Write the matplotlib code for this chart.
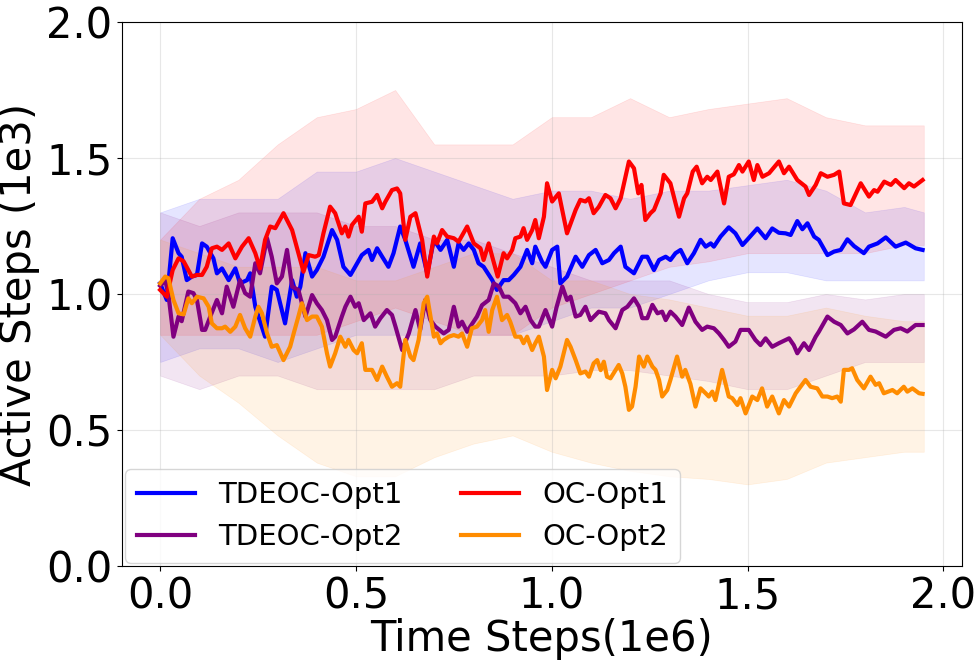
import numpy as np
import matplotlib
matplotlib.use("Agg")
import matplotlib.pyplot as plt

# mean curves (x in 1e6 steps, y in 1e3 steps)
tdeoc1_x = [0.000, 0.017, 0.032, 0.047, 0.055, 0.068, 0.081, 0.094, 0.107, 0.119, 0.136, 0.145, 0.158, 0.175,
            0.192, 0.204, 0.222, 0.230, 0.243, 0.268, 0.285, 0.298, 0.319, 0.337, 0.349, 0.358, 0.371, 0.388,
            0.400, 0.417, 0.439, 0.452, 0.468, 0.486, 0.498, 0.515, 0.532, 0.541, 0.554, 0.567, 0.583, 0.596,
            0.613, 0.626, 0.647, 0.664, 0.682, 0.699, 0.716, 0.733, 0.750, 0.762, 0.775, 0.788, 0.801, 0.813,
            0.826, 0.848, 0.860, 0.877, 0.890, 0.903, 0.920, 0.937, 0.950, 0.958, 0.975, 0.984, 1.001, 1.014,
            1.022, 1.039, 1.061, 1.078, 1.095, 1.112, 1.129, 1.146, 1.159, 1.176, 1.188, 1.210, 1.231, 1.244,
            1.261, 1.274, 1.291, 1.303, 1.316, 1.329, 1.346, 1.363, 1.380, 1.393, 1.406, 1.414, 1.431, 1.452,
            1.469, 1.487, 1.499, 1.525, 1.546, 1.563, 1.580, 1.597, 1.610, 1.627, 1.640, 1.653, 1.670, 1.682,
            1.704, 1.721, 1.738, 1.755, 1.772, 1.797, 1.810, 1.832, 1.853, 1.878, 1.904, 1.929, 1.947]
tdeoc1_y = [1.039, 0.978, 1.205, 1.150, 1.137, 1.051, 1.064, 1.070, 1.186, 1.174, 1.131, 1.076, 1.094, 1.051,
            1.094, 1.039, 1.051, 1.076, 0.953, 0.843, 1.027, 1.015, 0.892, 1.051, 0.990, 1.027, 1.150, 1.064,
            1.088, 1.137, 1.235, 1.199, 1.100, 1.070, 1.100, 1.143, 1.162, 1.125, 1.168, 1.137, 1.100, 1.150,
            1.248, 1.199, 1.100, 1.186, 1.076, 1.199, 1.162, 1.199, 1.100, 1.186, 1.162, 1.186, 1.162, 1.113,
            1.100, 1.051, 1.015, 1.051, 1.051, 1.070, 1.100, 1.162, 1.113, 1.174, 1.119, 1.100, 1.162, 1.174,
            1.039, 1.064, 1.137, 1.100, 1.143, 1.162, 1.113, 1.125, 1.150, 1.174, 1.100, 1.076, 1.137, 1.137,
            1.088, 1.125, 1.137, 1.125, 1.150, 1.162, 1.113, 1.150, 1.199, 1.174, 1.186, 1.174, 1.211, 1.245,
            1.223, 1.180, 1.199, 1.241, 1.205, 1.241, 1.225, 1.223, 1.217, 1.268, 1.238, 1.260, 1.211, 1.199,
            1.143, 1.156, 1.162, 1.201, 1.176, 1.150, 1.174, 1.186, 1.208, 1.174, 1.189, 1.168, 1.162]

tdeoc2_x = [0.000, 0.013, 0.021, 0.034, 0.047, 0.055, 0.072, 0.085, 0.094, 0.107, 0.115, 0.128, 0.145, 0.158,
            0.170, 0.187, 0.204, 0.217, 0.230, 0.243, 0.255, 0.273, 0.285, 0.298, 0.311, 0.324, 0.337, 0.353,
            0.371, 0.388, 0.400, 0.413, 0.426, 0.439, 0.447, 0.464, 0.473, 0.486, 0.498, 0.507, 0.520, 0.537,
            0.549, 0.562, 0.579, 0.592, 0.601, 0.618, 0.635, 0.652, 0.664, 0.677, 0.690, 0.703, 0.724, 0.737,
            0.750, 0.762, 0.771, 0.784, 0.792, 0.809, 0.822, 0.839, 0.852, 0.865, 0.877, 0.890, 0.907, 0.920,
            0.933, 0.946, 0.958, 0.967, 0.984, 1.001, 1.012, 1.027, 1.039, 1.048, 1.061, 1.073, 1.086, 1.099,
            1.120, 1.137, 1.146, 1.163, 1.180, 1.193, 1.210, 1.223, 1.231, 1.244, 1.257, 1.270, 1.282, 1.291,
            1.303, 1.316, 1.333, 1.350, 1.367, 1.384, 1.397, 1.414, 1.427, 1.440, 1.452, 1.469, 1.482, 1.503,
            1.520, 1.533, 1.546, 1.563, 1.580, 1.606, 1.618, 1.627, 1.644, 1.657, 1.674, 1.682, 1.704, 1.721,
            1.738, 1.755, 1.772, 1.793, 1.810, 1.827, 1.853, 1.874, 1.891, 1.908, 1.929, 1.947]
tdeoc2_y = [1.030, 1.050, 1.000, 0.843, 0.917, 0.900, 1.009, 1.003, 0.978, 0.868, 0.868, 0.917, 0.978, 0.929,
            1.027, 0.953, 1.051, 1.003, 0.990, 1.113, 1.076, 1.205, 1.137, 1.039, 1.064, 1.162, 1.027, 1.015,
            0.917, 0.996, 0.966, 0.941, 0.904, 0.831, 0.843, 0.917, 0.953, 0.990, 0.953, 0.966, 0.904, 0.929,
            0.880, 0.910, 0.941, 0.923, 0.880, 0.794, 0.855, 0.941, 0.868, 0.978, 0.904, 0.880, 0.855, 0.868,
            0.953, 0.880, 0.898, 0.861, 0.880, 0.917, 0.959, 0.978, 1.039, 1.027, 0.990, 0.990, 0.966, 0.929,
            0.953, 0.904, 0.880, 0.880, 0.941, 0.880, 0.950, 1.027, 0.978, 0.990, 0.917, 0.923, 0.953, 0.904,
            0.935, 0.929, 0.904, 0.874, 0.941, 0.953, 0.984, 0.953, 0.911, 0.911, 0.960, 0.929, 0.935, 0.904,
            0.935, 0.917, 0.886, 0.950, 0.898, 0.868, 0.880, 0.874, 0.855, 0.831, 0.806, 0.825, 0.868, 0.868,
            0.831, 0.812, 0.837, 0.806, 0.819, 0.837, 0.812, 0.782, 0.819, 0.794, 0.843, 0.861, 0.917, 0.898,
            0.886, 0.855, 0.870, 0.898, 0.868, 0.862, 0.843, 0.868, 0.874, 0.862, 0.886, 0.886]

oc1_x = [0.000, 0.017, 0.032, 0.047, 0.060, 0.081, 0.094, 0.107, 0.119, 0.132, 0.145, 0.158, 0.175, 0.192,
         0.209, 0.226, 0.243, 0.255, 0.268, 0.281, 0.294, 0.315, 0.337, 0.353, 0.366, 0.379, 0.396, 0.405,
         0.417, 0.434, 0.447, 0.464, 0.473, 0.481, 0.490, 0.507, 0.515, 0.524, 0.541, 0.554, 0.567, 0.575,
         0.592, 0.605, 0.613, 0.626, 0.639, 0.652, 0.669, 0.682, 0.699, 0.707, 0.720, 0.733, 0.750, 0.762,
         0.784, 0.801, 0.818, 0.826, 0.839, 0.848, 0.862, 0.877, 0.886, 0.899, 0.907, 0.920, 0.928, 0.937,
         0.950, 0.958, 0.967, 0.980, 0.988, 1.001, 1.018, 1.039, 1.061, 1.073, 1.086, 1.095, 1.107, 1.120,
         1.137, 1.150, 1.163, 1.176, 1.197, 1.210, 1.221, 1.229, 1.239, 1.252, 1.261, 1.278, 1.286, 1.303,
         1.325, 1.338, 1.346, 1.360, 1.370, 1.384, 1.397, 1.406, 1.423, 1.440, 1.452, 1.465, 1.478, 1.487,
         1.503, 1.516, 1.525, 1.538, 1.555, 1.580, 1.593, 1.606, 1.627, 1.648, 1.657, 1.674, 1.687, 1.704,
         1.721, 1.734, 1.746, 1.763, 1.789, 1.810, 1.823, 1.832, 1.849, 1.866, 1.878, 1.900, 1.912, 1.925,
         1.947]
oc1_y = [1.015, 0.990, 1.088, 1.131, 1.120, 1.064, 1.070, 1.070, 1.100, 1.168, 1.174, 1.162, 1.186, 1.131,
         1.174, 1.205, 1.150, 1.094, 1.199, 1.248, 1.242, 1.297, 1.235, 1.150, 1.082, 1.143, 1.137, 1.143,
         1.223, 1.321, 1.297, 1.223, 1.248, 1.211, 1.254, 1.284, 1.229, 1.333, 1.339, 1.364, 1.315, 1.339,
         1.382, 1.388, 1.370, 1.199, 1.284, 1.297, 1.199, 1.064, 1.211, 1.186, 1.235, 1.211, 1.205, 1.192,
         1.248, 1.186, 1.168, 1.125, 1.186, 1.137, 1.064, 1.150, 1.131, 1.162, 1.205, 1.211, 1.242, 1.199,
         1.235, 1.272, 1.205, 1.284, 1.407, 1.340, 1.370, 1.223, 1.309, 1.346, 1.340, 1.352, 1.297, 1.320,
         1.364, 1.352, 1.315, 1.352, 1.487, 1.462, 1.370, 1.401, 1.272, 1.297, 1.309, 1.370, 1.438, 1.407,
         1.284, 1.352, 1.370, 1.450, 1.468, 1.407, 1.431, 1.419, 1.450, 1.333, 1.431, 1.440, 1.474, 1.450,
         1.487, 1.419, 1.474, 1.431, 1.444, 1.487, 1.444, 1.468, 1.419, 1.395, 1.364, 1.401, 1.444, 1.431,
         1.438, 1.450, 1.333, 1.327, 1.407, 1.358, 1.382, 1.376, 1.413, 1.401, 1.419, 1.389, 1.407, 1.395,
         1.419]

oc2_x = [0.000, 0.013, 0.021, 0.034, 0.047, 0.060, 0.072, 0.081, 0.094, 0.111, 0.124, 0.132, 0.145, 0.158,
         0.166, 0.179, 0.192, 0.204, 0.217, 0.230, 0.243, 0.251, 0.260, 0.273, 0.285, 0.298, 0.315, 0.332,
         0.341, 0.353, 0.362, 0.375, 0.388, 0.400, 0.413, 0.426, 0.434, 0.447, 0.460, 0.473, 0.481, 0.494,
         0.503, 0.515, 0.524, 0.541, 0.554, 0.567, 0.579, 0.592, 0.605, 0.613, 0.626, 0.639, 0.647, 0.660,
         0.673, 0.682, 0.699, 0.707, 0.716, 0.724, 0.737, 0.750, 0.762, 0.771, 0.784, 0.796, 0.809, 0.822,
         0.830, 0.839, 0.848, 0.860, 0.873, 0.886, 0.894, 0.907, 0.920, 0.928, 0.937, 0.950, 0.958, 0.967,
         0.980, 0.988, 1.001, 1.010, 1.022, 1.039, 1.048, 1.061, 1.073, 1.086, 1.095, 1.107, 1.116, 1.125,
         1.133, 1.141, 1.150, 1.163, 1.171, 1.180, 1.188, 1.197, 1.205, 1.214, 1.223, 1.235, 1.244, 1.257,
         1.265, 1.274, 1.282, 1.295, 1.303, 1.320, 1.333, 1.341, 1.354, 1.367, 1.380, 1.393, 1.401, 1.410,
         1.418, 1.435, 1.452, 1.461, 1.474, 1.482, 1.495, 1.512, 1.525, 1.537, 1.550, 1.563, 1.580, 1.593,
         1.606, 1.623, 1.648, 1.661, 1.678, 1.691, 1.704, 1.716, 1.729, 1.738, 1.746, 1.759, 1.767, 1.780,
         1.797, 1.814, 1.827, 1.836, 1.848, 1.870, 1.882, 1.899, 1.908, 1.921, 1.938, 1.947]
oc2_y = [1.039, 1.064, 1.058, 0.978, 0.929, 0.925, 0.984, 0.966, 0.990, 0.984, 0.953, 0.892, 0.874, 0.874,
         0.880, 0.861, 0.880, 0.923, 0.874, 0.843, 0.917, 0.953, 0.929, 0.855, 0.806, 0.812, 0.757, 0.806,
         0.855, 0.917, 0.966, 0.904, 0.917, 0.917, 0.880, 0.782, 0.733, 0.782, 0.843, 0.806, 0.831, 0.794,
         0.782, 0.819, 0.721, 0.721, 0.684, 0.733, 0.696, 0.659, 0.672, 0.659, 0.831, 0.770, 0.757, 0.831,
         0.966, 0.990, 0.843, 0.855, 0.819, 0.831, 0.843, 0.849, 0.843, 0.855, 0.806, 0.874, 0.880, 0.904,
         0.941, 0.861, 0.941, 0.990, 0.904, 0.923, 0.898, 0.843, 0.843, 0.819, 0.843, 0.794, 0.819, 0.843,
         0.770, 0.647, 0.721, 0.690, 0.733, 0.831, 0.806, 0.757, 0.708, 0.715, 0.696, 0.745, 0.757, 0.720,
         0.751, 0.696, 0.690, 0.720, 0.739, 0.708, 0.659, 0.574, 0.586, 0.659, 0.770, 0.733, 0.770, 0.733,
         0.721, 0.684, 0.623, 0.647, 0.684, 0.770, 0.696, 0.721, 0.670, 0.586, 0.653, 0.635, 0.623, 0.641,
         0.610, 0.721, 0.623, 0.617, 0.592, 0.617, 0.561, 0.623, 0.610, 0.653, 0.586, 0.623, 0.561, 0.610,
         0.586, 0.635, 0.684, 0.659, 0.653, 0.623, 0.623, 0.617, 0.623, 0.604, 0.721, 0.721, 0.727, 0.684,
         0.653, 0.696, 0.666, 0.672, 0.635, 0.647, 0.635, 0.659, 0.641, 0.653, 0.635, 0.633]

# shaded spread, read coarsely at these x positions
band_x = [0.0, 0.1, 0.2, 0.3, 0.4, 0.5, 0.6, 0.7, 0.8, 0.9, 1.0, 1.1, 1.2, 1.3, 1.4, 1.5, 1.6, 1.7, 1.8, 1.9, 1.95]
tdeoc1_lo = [0.75, 0.80, 0.80, 0.75, 0.80, 0.85, 0.85, 0.85, 0.85, 0.85, 0.90, 0.95, 0.95, 1.00, 1.05, 1.08, 1.08, 1.05, 1.05, 1.05, 1.05]
tdeoc1_hi = [1.30, 1.35, 1.35, 1.35, 1.45, 1.45, 1.50, 1.45, 1.40, 1.35, 1.38, 1.38, 1.35, 1.38, 1.38, 1.40, 1.42, 1.38, 1.30, 1.32, 1.30]
tdeoc2_lo = [0.70, 0.65, 0.70, 0.70, 0.65, 0.65, 0.65, 0.65, 0.70, 0.70, 0.70, 0.72, 0.72, 0.70, 0.68, 0.65, 0.65, 0.70, 0.75, 0.75, 0.75]
tdeoc2_hi = [1.30, 1.25, 1.30, 1.30, 1.30, 1.25, 1.25, 1.20, 1.20, 1.15, 1.10, 1.05, 1.05, 1.05, 1.00, 0.97, 0.97, 1.00, 0.98, 1.00, 1.00]
oc1_lo = [0.85, 0.85, 0.85, 0.85, 0.85, 0.90, 0.95, 0.90, 0.85, 0.85, 0.95, 1.00, 1.05, 1.10, 1.12, 1.15, 1.15, 1.15, 1.15, 1.18, 1.18]
oc1_hi = [1.20, 1.35, 1.42, 1.55, 1.65, 1.68, 1.75, 1.55, 1.55, 1.55, 1.65, 1.65, 1.72, 1.65, 1.68, 1.70, 1.72, 1.65, 1.62, 1.62, 1.62]
oc2_lo = [0.85, 0.70, 0.60, 0.48, 0.38, 0.33, 0.33, 0.40, 0.45, 0.48, 0.42, 0.38, 0.35, 0.33, 0.32, 0.30, 0.32, 0.38, 0.40, 0.42, 0.42]
oc2_hi = [1.20, 1.15, 1.10, 1.10, 1.10, 1.05, 1.05, 1.10, 1.15, 1.15, 1.05, 1.05, 1.00, 0.98, 0.95, 0.92, 0.92, 0.95, 0.92, 0.90, 0.90]

series = [
    ("TDEOC-Opt1", "blue", tdeoc1_x, tdeoc1_y, tdeoc1_lo, tdeoc1_hi),
    ("TDEOC-Opt2", "purple", tdeoc2_x, tdeoc2_y, tdeoc2_lo, tdeoc2_hi),
    ("OC-Opt1", "red", oc1_x, oc1_y, oc1_lo, oc1_hi),
    ("OC-Opt2", "darkorange", oc2_x, oc2_y, oc2_lo, oc2_hi),
]

fig, ax = plt.subplots(figsize=(9.78, 6.64), dpi=100)
fig.subplots_adjust(left=0.1247, right=0.9836, bottom=0.1476, top=0.9669)

for name, col, xs, ys, lo, hi in series:
    ax.fill_between(band_x, lo, hi, color=col, alpha=0.1, lw=0.5)
for name, col, xs, ys, lo, hi in series:
    ax.plot(xs, ys, color=col, lw=3, label=name, solid_joinstyle="round")

ax.set_ylim(0, 2)
ax.set_yticks([0.0, 0.5, 1.0, 1.5, 2.0])
ax.set_xticks([0.0, 0.5, 1.0, 1.5, 2.0])
ax.tick_params(labelsize=30)
ax.grid(True, alpha=0.3)
ax.set_xlabel("Time Steps(1e6)", fontsize=30, labelpad=0)
ax.set_ylabel("Active Steps (1e3)", fontsize=30)
ax.legend(loc="lower left", ncol=2, fontsize=21, borderaxespad=0.1)

fig.savefig("out.png", dpi=100)
